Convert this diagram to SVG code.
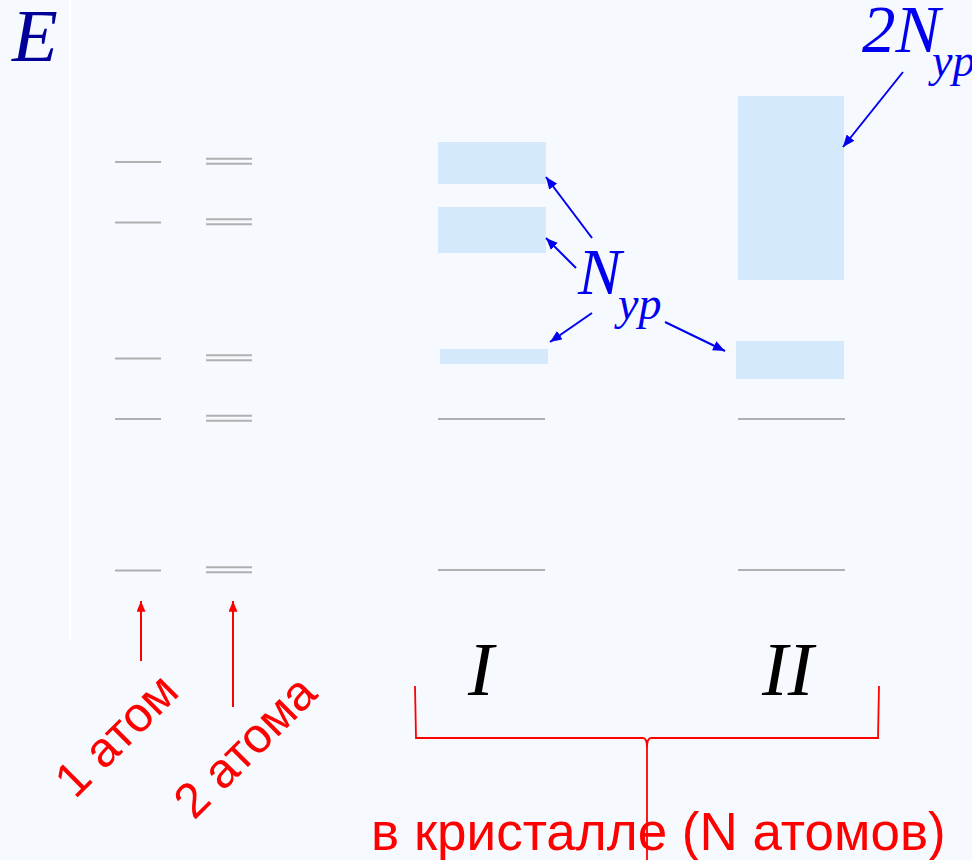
<svg xmlns="http://www.w3.org/2000/svg" width="972" height="860" viewBox="0 0 972 860">
<defs>
<style>
.lvl{stroke:#b0b0b0;stroke-width:2;fill:none}
.band{fill:#d5e9fc}
.ba{stroke:#0000ee;stroke-width:2;fill:none;marker-end:url(#bh)}
.ra{stroke:#ff0000;stroke-width:2;fill:none;marker-end:url(#rh)}
.it{font-family:"Liberation Serif","Times New Roman",serif;font-style:italic}
.red{font-family:"Liberation Sans",Arial,sans-serif;fill:#ff0000;font-size:49px}
</style>
<marker id="bh" viewBox="0 0 12 10" refX="12" refY="5" markerWidth="12" markerHeight="10" markerUnits="userSpaceOnUse" orient="auto"><path d="M0,0 L12,5 L0,10 Z" fill="#0000ee"/></marker>
<marker id="rh" viewBox="0 0 12 10" refX="12" refY="5" markerWidth="12" markerHeight="9" markerUnits="userSpaceOnUse" orient="auto"><path d="M0,0 L12,5 L0,10 Z" fill="#ff0000"/></marker>
</defs>
<rect x="0" y="0" width="972" height="860" fill="#f6f9fe"/>
<line x1="70" y1="0" x2="70" y2="640" stroke="#ffffff" stroke-width="2"/>
<g id="axisE"><text class="it" x="12" y="61" font-size="75" fill="#000099">E</text></g>
<g id="atom1">
<line class="lvl" x1="115" y1="162" x2="161" y2="162"/>
<line class="lvl" x1="115" y1="222.5" x2="161" y2="222.5"/>
<line class="lvl" x1="115" y1="358.5" x2="161" y2="358.5"/>
<line class="lvl" x1="115" y1="419" x2="161" y2="419"/>
<line class="lvl" x1="115" y1="570.5" x2="161" y2="570.5"/>
</g>
<g id="atom2">
<line class="lvl" x1="206" y1="158.7" x2="252" y2="158.7"/><line class="lvl" x1="206" y1="163.7" x2="252" y2="163.7"/>
<line class="lvl" x1="206" y1="219.3" x2="252" y2="219.3"/><line class="lvl" x1="206" y1="224.3" x2="252" y2="224.3"/>
<line class="lvl" x1="206" y1="355.3" x2="252" y2="355.3"/><line class="lvl" x1="206" y1="360.3" x2="252" y2="360.3"/>
<line class="lvl" x1="206" y1="415.7" x2="252" y2="415.7"/><line class="lvl" x1="206" y1="420.7" x2="252" y2="420.7"/>
<line class="lvl" x1="206" y1="567.3" x2="252" y2="567.3"/><line class="lvl" x1="206" y1="572.3" x2="252" y2="572.3"/>
</g>
<g id="crystalI">
<rect class="band" x="438" y="142" width="108" height="42"/>
<rect class="band" x="438" y="207" width="108" height="46"/>
<rect class="band" x="440" y="349" width="108" height="15"/>
<line class="lvl" x1="438" y1="419" x2="545" y2="419"/>
<line class="lvl" x1="438" y1="570" x2="545" y2="570"/>
<text class="it" x="468" y="695" font-size="77" fill="#000000">I</text>
</g>
<g id="crystalII">
<rect class="band" x="738" y="96" width="106" height="184"/>
<rect class="band" x="736" y="341" width="108" height="38"/>
<line class="lvl" x1="738" y1="419" x2="845" y2="419"/>
<line class="lvl" x1="738" y1="570" x2="845" y2="570"/>
<text class="it" x="762" y="695" font-size="77" fill="#000000">II</text>
</g>
<g id="labelN">
<text class="it" x="578" y="294" font-size="65" fill="#0000ee">N</text>
<text class="it" x="618" y="319" font-size="46" fill="#0000ee">yp</text>
</g>
<g id="label2N">
<text class="it" x="862" y="52" font-size="67" fill="#0000ee">2N</text>
<text class="it" x="932" y="76" font-size="46" fill="#0000ee">yp</text>
</g>
<g id="labelAtom1"><text class="red" transform="translate(75,800) rotate(-45)">1 атом</text></g>
<g id="labelAtom2"><text class="red" transform="translate(194,821) rotate(-45)">2 атома</text></g>
<g id="labelCrystal"><text class="red" x="371" y="850" font-size="53" style="font-size:53px">в кристалле (N атомов)</text></g>
<g id="connectors">
<line class="ba" x1="592" y1="238" x2="546" y2="177"/>
<line class="ba" x1="576" y1="268" x2="546" y2="238"/>
<line class="ba" x1="592" y1="313" x2="550" y2="342"/>
<line class="ba" x1="665" y1="322" x2="725" y2="351"/>
<line class="ba" x1="903" y1="72" x2="843" y2="147"/>
<line class="ra" x1="141" y1="661" x2="141" y2="601"/>
<line class="ra" x1="233" y1="707" x2="233" y2="601"/>
<path d="M415,686 L416,738 L643,738 Q647,738 647,748 L647,860 M879,686 L878,738 L651,738 Q647,738 647,748" stroke="#ff0000" stroke-width="1.8" fill="none"/>
</g>
</svg>
